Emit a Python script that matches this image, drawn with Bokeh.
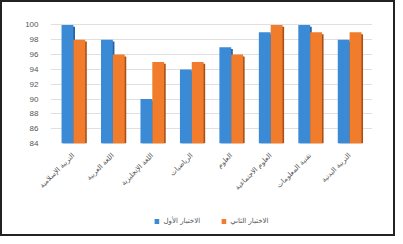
from bokeh.plotting import figure
from bokeh.models import ColumnDataSource, Range1d, FactorRange, Legend, LegendItem, SingleIntervalTicker
from bokeh.layouts import column
from bokeh.transform import dodge
from bokeh.embed import file_html
from bokeh.resources import INLINE

categories = ["التربية الإسلامية", "اللغة العربية", "اللغة الإنجليزية", "الرياضيات",
              "العلوم", "العلوم الاجتماعية", "تقنية المعلومات", "التربية البدنية"]
test1 = [100, 98, 90, 94, 97, 99, 100, 98]
test2 = [98, 96, 95, 95, 96, 100, 99, 99]
series_names = ["الاختبار الأول", "الاختبار الثاني"]
base = 84

src = ColumnDataSource(dict(cat=categories, t1=test1, t2=test2,
                            t1s=[v - 0.25 for v in test1], t2s=[v - 0.25 for v in test2]))

p = figure(width=391, height=205, output_backend="svg", toolbar_location=None,
           x_range=FactorRange(*categories, range_padding=0.02), y_range=Range1d(84, 101),
           min_border_left=48, min_border_right=21, min_border_top=15, min_border_bottom=64)
p.outline_line_color = None
p.background_fill_color = "white"
p.border_fill_color = "white"

blue, blue_d = "#3a8ad6", "#24609e"
orange, orange_d = "#f07c2c", "#a8501a"

p.vbar(x=dodge("cat", -0.11, range=p.x_range), top="t1s", bottom=base, width=0.3, source=src,
       fill_color=blue_d, line_color=None)
r1 = p.vbar(x=dodge("cat", -0.15, range=p.x_range), top="t1", bottom=base, width=0.3, source=src,
            fill_color=blue, line_color=None)
p.vbar(x=dodge("cat", 0.19, range=p.x_range), top="t2s", bottom=base, width=0.3, source=src,
       fill_color=orange_d, line_color=None)
r2 = p.vbar(x=dodge("cat", 0.15, range=p.x_range), top="t2", bottom=base, width=0.3, source=src,
            fill_color=orange, line_color=None)

p.yaxis.ticker = SingleIntervalTicker(interval=2)
p.ygrid.ticker = SingleIntervalTicker(interval=2)
p.ygrid.grid_line_color = "#e0e0e0"
p.xgrid.grid_line_color = None
p.axis.axis_line_color = None
p.axis.major_tick_line_color = None
p.axis.minor_tick_line_color = None
p.yaxis.major_label_text_font_size = "8px"
p.yaxis.major_label_text_color = "#555555"
p.yaxis.major_label_standoff = 6
p.xaxis.major_label_orientation = 0.785
p.xaxis.major_label_text_font_size = "7px"
p.xaxis.major_label_text_color = "#555555"
p.xaxis.major_label_text_font = "DejaVu Sans"
p.xaxis.major_label_standoff = 5

# legend strip (keys drawn from bar renderers placed outside the visible range)
lg = figure(width=391, height=27, output_backend="svg", toolbar_location=None,
            x_range=Range1d(0, 1), y_range=Range1d(0, 1),
            min_border=0, outline_line_color=None)
lg.axis.visible = False
lg.grid.visible = False
offscreen = ColumnDataSource(dict(x=[-10], y=[-10]))
g1 = lg.vbar(x="x", top="y", bottom=-11, width=0.1, source=offscreen, fill_color=blue, line_color=None)
g2 = lg.vbar(x="x", top="y", bottom=-11, width=0.1, source=offscreen, fill_color=orange, line_color=None)
legend = Legend(items=[LegendItem(label=series_names[0], renderers=[g1]),
                       LegendItem(label=series_names[1], renderers=[g2])],
                orientation="horizontal", location="center",
                label_text_font_size="7px", label_text_color="#555555",
                label_text_font="DejaVu Sans", label_standoff=4,
                glyph_width=6, glyph_height=6, spacing=20, padding=0, margin=0,
                border_line_color=None, background_fill_alpha=0)
lg.add_layout(legend, "center")

layout = column(p, lg, spacing=0, styles={"border": "2px solid #222222"})

open("out.html", "w").write(file_html(layout, INLINE))
